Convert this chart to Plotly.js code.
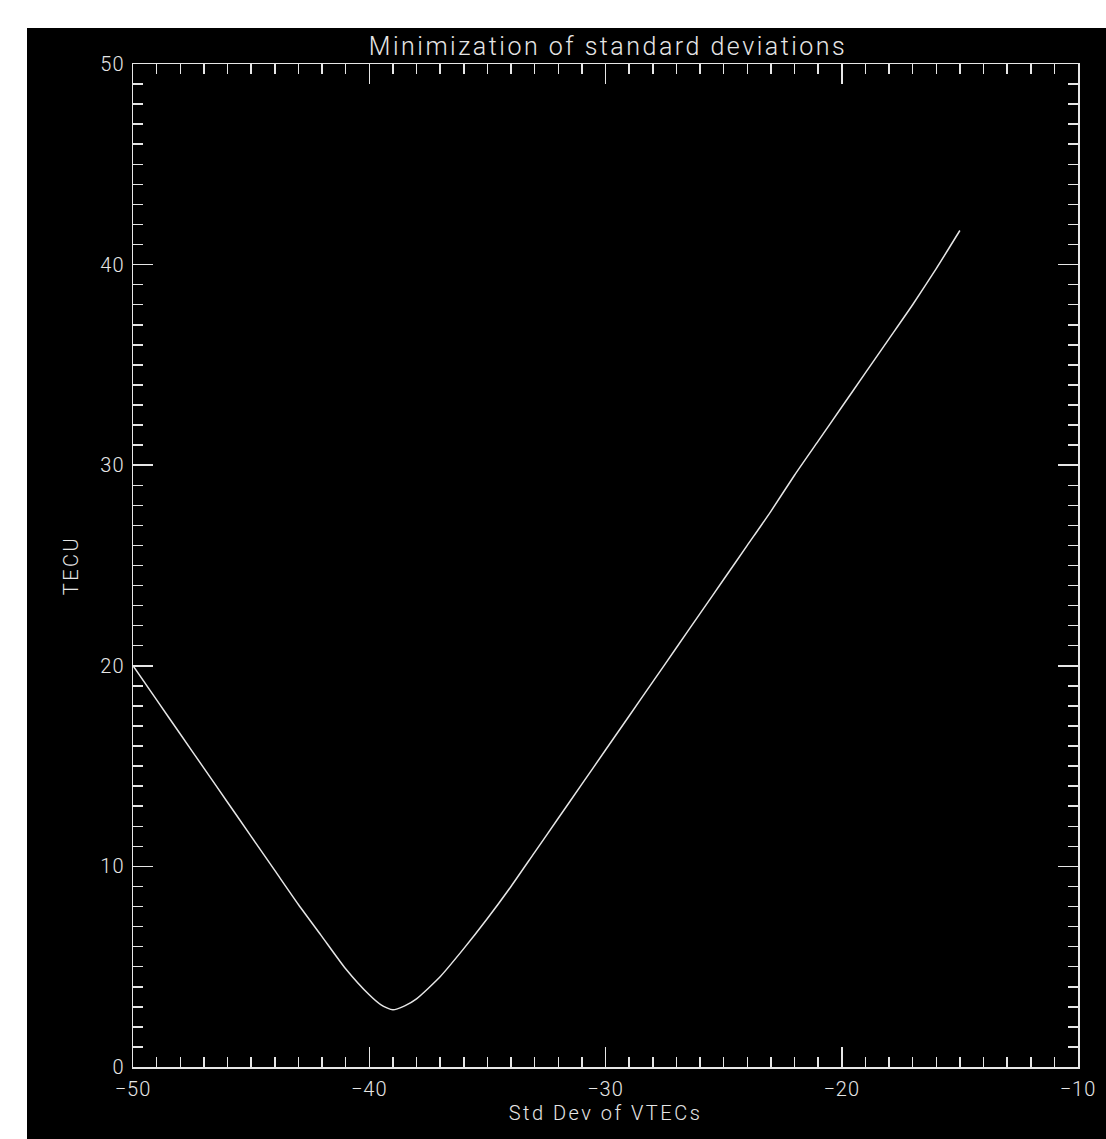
<!DOCTYPE html>
<html>
<head>
<meta charset="utf-8">
<script src="https://cdn.plot.ly/plotly-3.0.1.min.js"></script>
<style>
  html, body { margin: 0; padding: 0; background: #ffffff; width: 1106px; height: 1139px; overflow: hidden; }
  #chart { position: absolute; left: 27px; top: 28px; width: 1079px; height: 1111px; background: #000; }
  #chart .gtitle { letter-spacing: 2.5px !important; }
  #chart .xtitle, #chart .ytitle { letter-spacing: 2.5px !important; }
  #chart .xtick text, #chart .ytick text { letter-spacing: 1px !important; }
</style>
</head>
<body>
<div id="chart"></div>
<script>
// Std Dev of VTECs (x) vs TECU (y)
const stdDevX = [-50, -49, -48, -47, -46, -45, -44, -43, -42, -41, -40, -39.5, -39, -38.5, -38, -37, -36, -35, -34, -33, -32, -31, -30, -29, -28, -27, -26, -25, -24, -23, -22, -21, -20, -19, -18, -17, -16, -15];
const tecuY   = [20.0, 18.3, 16.6, 14.9, 13.2, 11.5, 9.8, 8.1, 6.5, 4.9, 3.6, 3.1, 2.85, 3.05, 3.4, 4.5, 5.9, 7.4, 9.0, 10.7, 12.4, 14.1, 15.8, 17.5, 19.2, 20.9, 22.6, 24.3, 26.0, 27.7, 29.5, 31.2, 32.9, 34.6, 36.3, 38.0, 39.8, 41.7];

const titleText = "Minimization of standard deviations";
const xTitle = "Std Dev of VTECs";
const yTitle = "TECU";
const xTicks = [-50, -40, -30, -20, -10];
const yTicks = [0, 10, 20, 30, 40, 50];

const fg = "#e6e6e6";
const fontFam = "Roboto, 'DejaVu Sans', sans-serif";

const axisCommon = {
  showgrid: false, zeroline: false,
  showline: true, linecolor: fg, linewidth: 1.5, mirror: "allticks",
  ticks: "inside", ticklen: 20, tickwidth: 1.5, tickcolor: fg,
  tickfont: { family: fontFam, size: 20, color: fg, weight: 300 },
  minor: { ticks: "inside", ticklen: 10, tickwidth: 1.5, tickcolor: fg, dtick: 1, showgrid: false }
};

const data = [{
  type: "scatter", mode: "lines",
  x: stdDevX, y: tecuY,
  line: { color: fg, width: 1.5, shape: "spline", smoothing: 0.6 },
  hoverinfo: "skip"
}];

const layout = {
  width: 1079, height: 1111,
  paper_bgcolor: "#000000", plot_bgcolor: "#000000",
  margin: { l: 106, r: 28, t: 36, b: 72 },
  showlegend: false,
  title: { text: titleText, font: { family: fontFam, size: 25, color: fg, weight: 300 },
           x: 0.5385, xanchor: "center", yref: "container", y: 1 - 18/1111, yanchor: "middle" },
  xaxis: Object.assign({}, axisCommon, {
    range: [-50, -10], tickmode: "array", tickvals: xTicks, ticklabelstandoff: 3,
    title: { text: xTitle, font: { family: fontFam, size: 20, color: fg, weight: 300 }, standoff: 6 }
  }),
  yaxis: Object.assign({}, axisCommon, {
    range: [0, 50], tickmode: "array", tickvals: yTicks, ticklabelstandoff: 3,
    title: { text: yTitle, font: { family: fontFam, size: 20, color: fg, weight: 300 }, standoff: 18 }
  })
};

Plotly.newPlot("chart", data, layout, { displayModeBar: false, staticPlot: true });
</script>
</body>
</html>
